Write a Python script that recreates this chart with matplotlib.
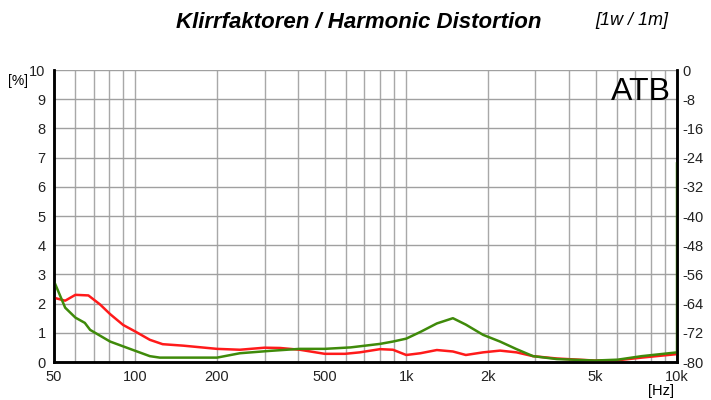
import numpy as np
import matplotlib.pyplot as plt

plt.rcParams['font.family'] = ['Liberation Sans', 'DejaVu Sans']
plt.rcParams['axes.unicode_minus'] = False

# harmonic distortion in %
freq_red = [50, 55, 60, 67, 74, 80.6, 90, 100, 113, 126, 150, 200, 243, 300, 342, 404,
            500, 594, 673, 800, 893, 1000, 1128, 1297, 1487, 1660, 1922, 2220, 2555,
            2940, 3600, 4970, 6040, 7400, 10000]
thd_red = [2.2, 2.1, 2.3, 2.28, 1.97, 1.64, 1.27, 1.04, 0.76, 0.61, 0.56, 0.45, 0.42, 0.49,
           0.48, 0.42, 0.28, 0.28, 0.33, 0.44, 0.42, 0.24, 0.3, 0.41, 0.36, 0.24, 0.33,
           0.39, 0.33, 0.2, 0.12, 0.05, 0.06, 0.15, 0.27]

freq_green = [50, 55, 60, 65, 68, 80.6, 100, 113, 123, 200, 243, 313, 404, 500, 623, 800,
              893, 1000, 1128, 1297, 1487, 1660, 1922, 2220, 2555, 2940, 3600, 4970, 6040,
              7400, 10000, 10000]
thd_green = [2.77, 1.86, 1.52, 1.34, 1.1, 0.7, 0.38, 0.2, 0.15, 0.15, 0.3, 0.38, 0.45, 0.45,
             0.5, 0.62, 0.7, 0.8, 1.03, 1.32, 1.5, 1.28, 0.93, 0.7, 0.44, 0.2, 0.1, 0.05,
             0.08, 0.2, 0.33, 6.8]

xticks = [50, 100, 200, 500, 1000, 2000, 5000, 10000]
xlabels = ['50', '100', '200', '500', '1k', '2k', '5k', '10k']
minor_x = [60, 70, 80, 90, 300, 400, 600, 700, 800, 900, 3000, 4000, 6000, 7000, 8000, 9000]
db_ticks = list(range(0, -81, -8))

fig = plt.figure(figsize=(7.11, 4), dpi=100)
ax = fig.add_axes([0.0759, 0.095, 0.8763, 0.73])

ax.set_xscale('log')
ax.set_xlim(50, 10000)
ax.set_ylim(0, 10)

for f in xticks[1:-1] + minor_x:
    ax.axvline(f, color='#a8a8a8', lw=1, zorder=1)
for v in range(1, 11):
    ax.axhline(v, color='#a0a0a0', lw=1, zorder=1)

ax.plot(freq_red, thd_red, color='#ff1a1a', lw=1.8, zorder=3)
ax.plot(freq_green, thd_green, color='#3f8a0a', lw=1.8, zorder=4)

ax.set_xticks(xticks)
ax.set_xticklabels(xlabels, fontsize=10.5)
ax.xaxis.set_minor_locator(plt.NullLocator())
ax.set_yticks(range(0, 11))
ax.tick_params(axis='both', length=0, labelsize=10.5, colors='#222222')
ax.tick_params(axis='x', pad=6)
ax.tick_params(axis='y', pad=6)

ax2 = ax.twinx()
ax2.set_ylim(-80, 0)
ax2.set_yticks(db_ticks)
ax2.tick_params(axis='y', length=0, labelsize=10.5, pad=4, colors='#222222')

for a in (ax, ax2):
    a.spines['top'].set_visible(False)
    a.spines['left'].set_linewidth(1.8)
    a.spines['bottom'].set_linewidth(1.8)
    a.spines['right'].set_linewidth(1.8)

ax.text(0.99, 0.975, 'ATB', transform=ax.transAxes, ha='right', va='top', fontsize=23,
        zorder=5)

fig.text(0.505, 0.945, 'Klirrfaktoren / Harmonic Distortion', ha='center', va='center',
         fontsize=16, fontweight='bold', fontstyle='italic')
fig.text(0.888, 0.948, '[1w / 1m]', ha='center', va='center', fontsize=13,
         fontstyle='italic')
fig.text(0.026, 0.797, '[%]', ha='center', va='center', fontsize=10)
fig.text(0.93, 0.022, '[Hz]', ha='center', va='center', fontsize=10.5)

fig.savefig('out.png', dpi=100)
